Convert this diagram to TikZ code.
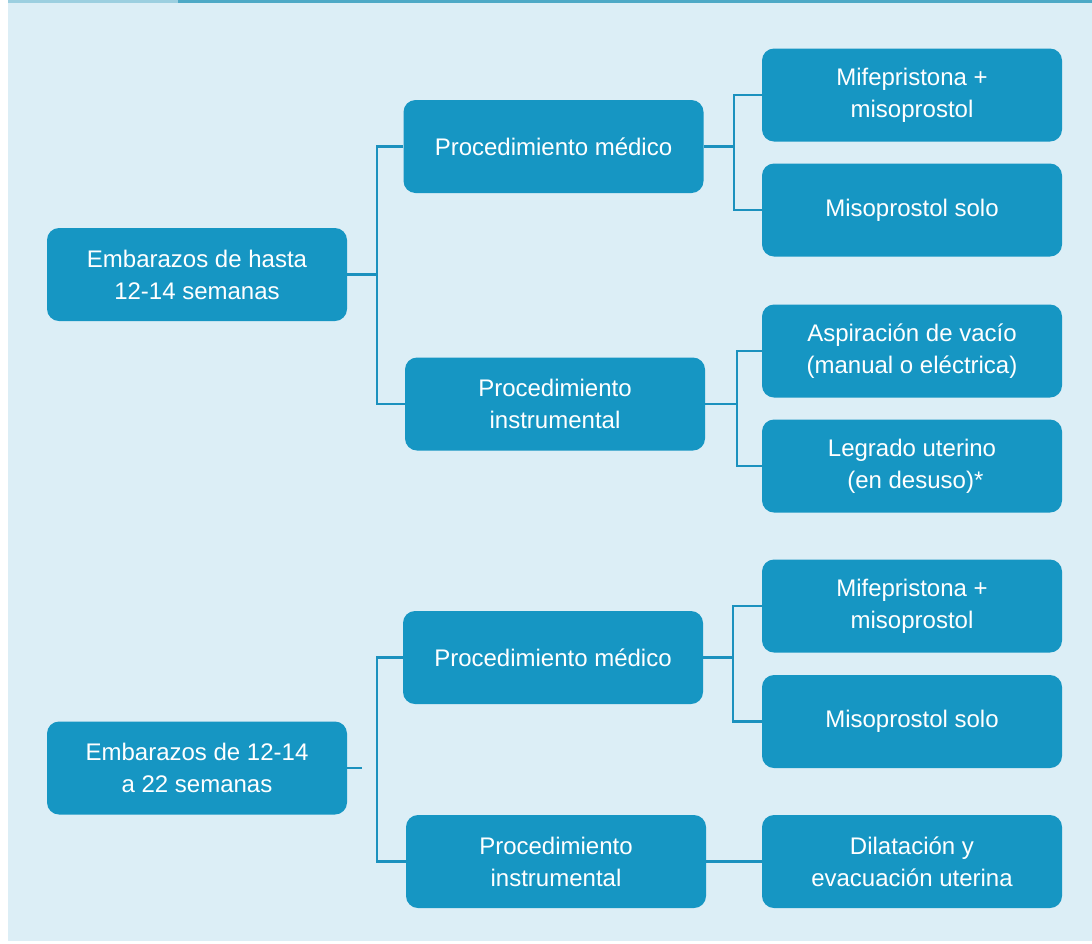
\documentclass[tikz,border=0pt]{standalone}
\usepackage{fontspec}
\setmainfont{Liberation Sans}
\usepackage{tikz}
\usetikzlibrary{positioning, calc}
\definecolor{guideBlue}{HTML}{1696C3}
\definecolor{guideLine}{HTML}{1B91BE}
\definecolor{guideBack}{HTML}{DCEEF6}
\definecolor{guideRule}{HTML}{4DA9C6}
\definecolor{guideRuleLight}{HTML}{9CCFE0}

\begin{document}
\begin{tikzpicture}[x=1pt, y=-1pt,
  box/.style={fill=guideBlue, rounded corners=12pt, text=white, align=center,
    minimum width=300pt, minimum height=93pt, inner sep=0pt,
    font=\fontsize{24}{32}\selectfont},
  link/.style={draw=guideLine, line width=2.4pt}]
\useasboundingbox (0,0) rectangle (1092,943);
\fill[guideBack] (8,2) rectangle (1092,941);
\fill[guideRuleLight] (8,0) rectangle (178,2.5);
\fill[guideRule] (178,0) rectangle (1092,2.5);

% hasta 12-14 semanas
\node[box] (emb1) at (197,274.5) {Embarazos de hasta\\12-14 semanas};
\node[box] (med1) at (553.5,146.5) {Procedimiento médico};
\node[box] (ins1) at (555,404) {Procedimiento\\instrumental};
\foreach \nm/\y/\txt in {r1/95/{Mifepristona +\\misoprostol},
  r2/210/{Misoprostol solo},
  r3/351/{Aspiración de vacío\\(manual o eléctrica)},
  r4/466/{Legrado uterino\\\ (en desuso)*}}
{
  \node[box] (\nm) at (912,\y) {\txt};
}

% 12-14 a 22 semanas
\node[box] (emb2) at (197,768) {Embarazos de 12-14\\a 22 semanas};
\node[box] (med2) at (553,657.5) {Procedimiento médico};
\node[box] (ins2) at (556,861.5) {Procedimiento\\instrumental};
\foreach \nm/\y/\txt in {r5/606/{Mifepristona +\\misoprostol},
  r6/721.5/{Misoprostol solo},
  r7/861.5/{Dilatación y\\evacuación uterina}}
{
  \node[box] (\nm) at (912,\y) {\txt};
}

% connectors
\draw[link] (emb1.east) -- ++(30,0) coordinate (j1);
\draw[link] (med1.west) -- (j1 |- med1.west) -- (j1 |- ins1.west) -- (ins1.west);
\draw[link] (med1.east) -- ++(30,0) coordinate (k1);
\draw[link] (r1.west) -- (k1 |- r1.west) -- (k1 |- r2.west) -- (r2.west);
\draw[link] (ins1.east) -- ++(32,0) coordinate (k2);
\draw[link] (r3.west) -- (k2 |- r3.west) -- (k2 |- r4.west) -- (r4.west);

\draw[link] (emb2.east) -- ++(15,0);
\draw[link] (med2.west) -- ++(-26,0) coordinate (j2) -- (j2 |- ins2.west) -- (ins2.west);
\draw[link] (med2.east) -- ++(30,0) coordinate (k3);
\draw[link] (r5.west) -- (k3 |- r5.west) -- (k3 |- r6.west) -- (r6.west);
\draw[link] (ins2.east) -- (r7.west);
\end{tikzpicture}
\end{document}
